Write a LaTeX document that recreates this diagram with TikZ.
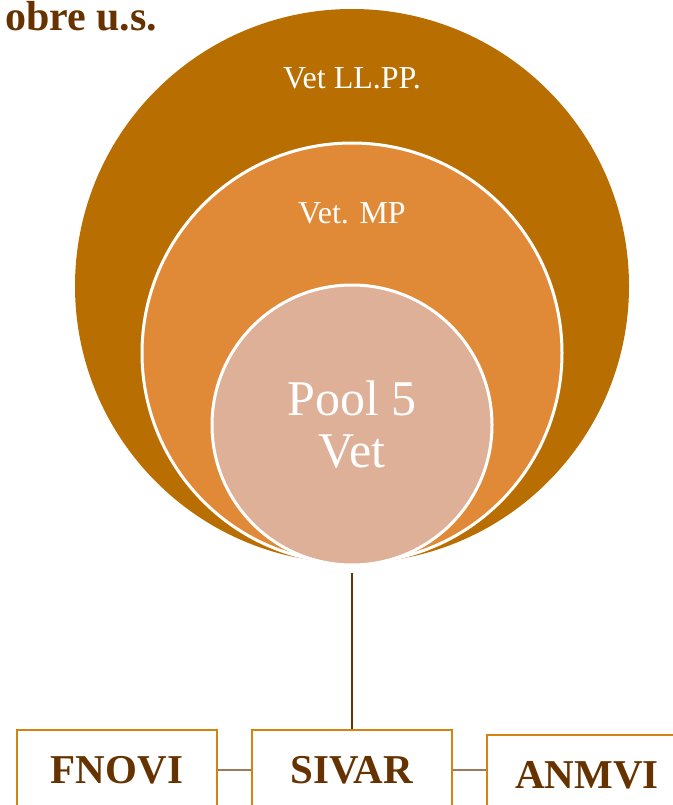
\documentclass[tikz,border=0pt]{standalone}
\usepackage{fontspec}
\setmainfont{Liberation Serif}
\usetikzlibrary{positioning}
\definecolor{outerbrown}{HTML}{B86E00}
\definecolor{midorange}{HTML}{E08A38}
\definecolor{innerpeach}{HTML}{DDB097}
\definecolor{boxorange}{HTML}{D4830F}
\definecolor{darkbrown}{HTML}{663300}
\definecolor{linkgray}{HTML}{9B7B5B}

\begin{document}
\begin{tikzpicture}[x=1pt,y=-1pt,
  ring/.style={circle,draw=white,line width=3pt,inner sep=0pt},
  ringlabel/.style={text=white,font=\fontsize{32}{34}\selectfont},
  orgbox/.style={draw=boxorange,line width=2.5pt,minimum width=200pt,minimum height=80pt,
    text=darkbrown,font=\fontsize{41}{43}\selectfont\bfseries}]
  \useasboundingbox (0,0) rectangle (672,805);
  % title
  \node[anchor=base west,inner sep=0pt,text=darkbrown,font=\fontsize{42}{44}\selectfont\bfseries] (title) at (5,31) {obre u.s.};
  % nested circles
  \node[circle,fill=outerbrown,inner sep=0pt,minimum size=554pt] (pp) at (352,286) {};
  \node[ring,fill=midorange,minimum size=420pt] (mp) at (352,353) {};
  \node[ring,fill=innerpeach,minimum size=280pt,text=white,align=center,
    font=\fontsize{50}{52}\selectfont] (pool) at (352,425) {Pool 5\\Vet};
  \node[ringlabel] (labpp) at (352,78) {Vet LL.PP.};
  \node[ringlabel] (labmp) at (352,213) {Vet. MP};
  % associations
  \node[orgbox] (sivar) at (352,770) {SIVAR};
  \node[orgbox] (fnovi) at (117,770) {FNOVI};
  \node[orgbox] (anmvi) at (587,775) {ANMVI};
  \draw[darkbrown,line width=2pt,shorten <=6pt] (pool.south) -- (sivar.north);
  \draw[linkgray,line width=2pt] (fnovi.east) -- (sivar.west);
  \draw[linkgray,line width=2pt] (sivar.east) -- (sivar.east -| anmvi.west);
\end{tikzpicture}
\end{document}
